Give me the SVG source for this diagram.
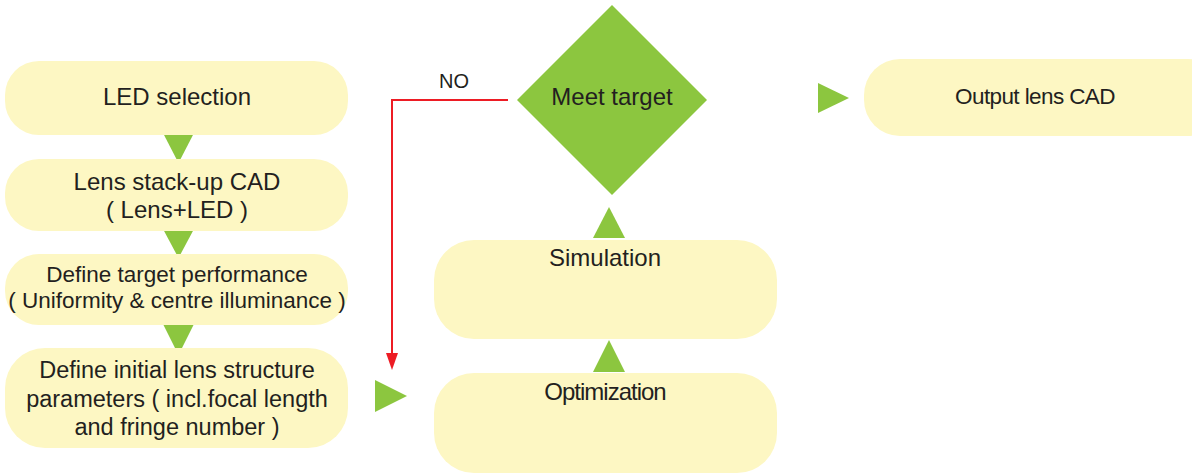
<svg xmlns="http://www.w3.org/2000/svg" width="1192" height="473" viewBox="0 0 1192 473">
<style>
.box{fill:#fdf7c3}
.tri{fill:#8cc63f}
.t{font-family:"Liberation Sans",Arial,sans-serif;fill:#231f20;text-anchor:middle}
.s24{font-size:24px}
.s23{font-size:23.5px}
.s22{font-size:22.5px}
</style>
<rect width="1192" height="473" fill="#ffffff"/>

<g id="connectors">
<polygon class="tri" points="163,133 194,133 178.5,163"/>
<polygon class="tri" points="163,229 194,229 178.5,258"/>
<polygon class="tri" points="163,324 194,324 178.5,355"/>
<polygon class="tri" points="375,380 407,396 375,412"/>
<polygon class="tri" points="593,372 625,372 609,340"/>
<polygon class="tri" points="593,238 625,238 609,207"/>
<polygon class="tri" points="818,83 849,98 818,113"/>
<polyline points="508,100 392,100 392,353" fill="none" stroke="#ed1c24" stroke-width="2"/>
<polygon points="386,353 398,353 392,370" fill="#ed1c24"/>
<text class="t" x="454" y="88" style="font-size:20px">NO</text>
</g>

<g id="n1">
<rect class="box" x="5" y="61" width="343" height="74" rx="34"/>
<text class="t s24" x="177" y="105">LED selection</text>
</g>
<g id="n2">
<rect class="box" x="5" y="159" width="343" height="72" rx="34"/>
<text class="t s24" x="177" y="190">Lens stack-up CAD</text>
<text class="t s24" x="177" y="218">( Lens+LED )</text>
</g>
<g id="n3">
<rect class="box" x="5" y="254" width="343" height="71" rx="34"/>
<text class="t s22" x="177" y="282">Define target performance</text>
<text class="t s22" x="177" y="308">( Uniformity &amp; centre illuminance )</text>
</g>
<g id="n4">
<rect class="box" x="5" y="348" width="343" height="100" rx="40"/>
<text class="t s23" x="177" y="378">Define initial lens structure</text>
<text class="t s23" x="177" y="407">parameters ( incl.focal length</text>
<text class="t s23" x="177" y="435">and fringe number )</text>
</g>
<g id="n5">
<rect class="box" x="434" y="373" width="343" height="100" rx="40"/>
<text class="t s24" x="605" y="400" letter-spacing="-1">Optimization</text>
</g>
<g id="n6">
<rect class="box" x="434" y="240" width="343" height="99" rx="40"/>
<text class="t s24" x="605" y="266">Simulation</text>
</g>
<g id="n7">
<polygon class="tri" points="612,5 707,100 612,195 517,100"/>
<text class="t s24" x="612" y="105">Meet target</text>
</g>
<g id="n8">
<rect class="box" x="864" y="59" width="360" height="77" rx="36"/>
<text class="t s22" x="1035" y="104" letter-spacing="-0.6">Output lens CAD</text>
</g>
</svg>
